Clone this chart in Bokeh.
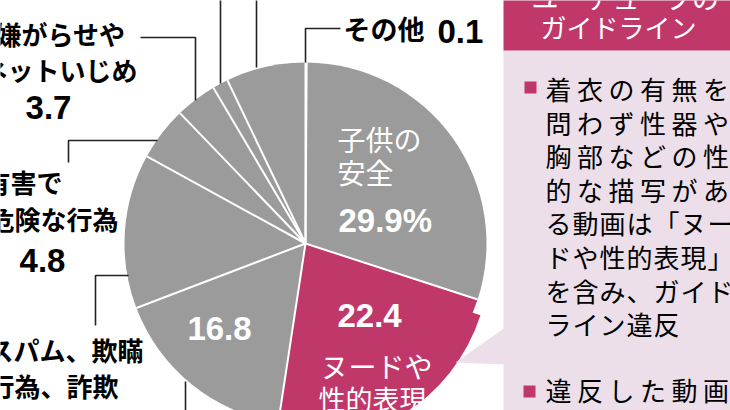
import numpy as np
from bokeh.plotting import figure
from bokeh.models import Range1d, ColumnDataSource
from bokeh.core.properties import value
from bokeh.embed import file_html
from bokeh.resources import INLINE

# ---- data (percent of removed videos, clockwise from 12 o'clock) ----
categories = ["その他", "子供の安全", "ヌードや性的表現", "（図外の項目A）",
              "スパム、欺瞞行為、詐欺", "有害で危険な行為", "嫌がらせやネットいじめ",
              "（図外の項目B）", "（図外の項目C）"]
shares = [0.1, 29.9, 22.4, 16.8, 13.8, 4.8, 3.7, 1.4, 7.1]
highlight = "ヌードや性的表現"

header_lines = ["ユーチューブの", "ガイドライン"]
body_lines = ["着衣の有無を", "問わず性器や", "胸部などの性", "的な描写があ",
              "る動画は「ヌー", "ドや性的表現」", "を含み、ガイド", "ライン違反"]
body_lines2 = ["違反した動画"]

W, H = 730, 410
JP = "Noto Sans CJK JP"
NUM = "Liberation Sans"
GREY = "#9b9b9b"
PINK = "#c0386a"
PALE = "#ecdfe9"

p = figure(width=W, height=H, x_range=Range1d(0, W), y_range=Range1d(0, H),
           x_axis_type=None, y_axis_type=None, toolbar_location=None,
           output_backend="svg", min_border=0, outline_line_color=None,
           background_fill_color="white", border_fill_color="white")
p.xgrid.visible = False
p.ygrid.visible = False


def Y(y):
    return H - y


# ---- pie ----
cx, cy, R = 305, Y(243), 181
frac = np.array(shares) / np.sum(shares)
ends = np.cumsum(frac) * 2 * np.pi
starts = ends - frac * 2 * np.pi
is_hi = np.array([c == highlight for c in categories])
src = ColumnDataSource(dict(
    start=np.pi / 2 - ends, end=np.pi / 2 - starts,
    color=[PINK if h else GREY for h in is_hi], cat=categories))

# highlighted slice pulled slightly outward (drawn underneath the pie)
hi_src = ColumnDataSource(dict(start=(np.pi / 2 - ends)[is_hi], end=(np.pi / 2 - starts)[is_hi]))
p.wedge(x=cx, y=cy - 15, radius=184, start_angle="start", end_angle="end",
        fill_color=PINK, line_color=None, source=hi_src)

p.wedge(x=cx, y=cy, radius=R, start_angle="start", end_angle="end",
        fill_color="color", line_color=None, source=src)
# white separators between slices
p.ray(x=cx, y=cy, length=R, angle=np.pi / 2 - starts, line_color="white", line_width=2)


def txt(x, y, s, size, color="black", align="left", bold=False, font=JP):
    p.text(x=[x], y=[Y(y)], text=[s], text_font=value(font),
           text_font_size=f"{size}px", text_color=color, text_align=align,
           text_baseline="middle", text_font_style="bold" if bold else "normal")


def leader(xs, ys):
    p.line(x=xs, y=[Y(v) for v in ys], line_color="#222222", line_width=1.6)


# ---- right panel ----
p.quad(left=[503], right=[740], top=[Y(50)], bottom=[Y(420)], fill_color=PALE, line_color=None)
p.quad(left=[503], right=[740], top=[Y(-20)], bottom=[Y(50)], fill_color=PINK, line_color=None)
p.patch(x=[455, 506, 506], y=[Y(362), Y(326), Y(364)], fill_color=PALE, line_color=None)

txt(531, -3, header_lines[0], 27, "white")
txt(540, 26, header_lines[1], 26, "white")

# bullets
p.rect(x=[530, 529], y=[Y(87), Y(391)], width=12, height=12, fill_color=PINK, line_color=None)

# justified body text, placed character by character
LINE_W = 189
y0, lh = 88, 33.6
for i, line in enumerate(body_lines):
    pitch = 27 if i == len(body_lines) - 1 else LINE_W / len(line)
    for j, ch in enumerate(line):
        txt(545 + j * pitch, y0 + i * lh, ch, 26)
for j, ch in enumerate(body_lines2[0]):
    txt(545 + j * 31.5, 389, ch, 26)

# ---- labels outside the pie ----
leader([305, 305, 340], [62, 28, 28])
txt(343, 28, categories[0], 27, bold=True)
txt(437, 31, f"{shares[0]}", 33, bold=True, font=NUM)

leader([220, 220], [-5, 83])
leader([256, 256], [-5, 67])

leader([140, 195, 195], [37, 37, 100])
txt(125, 33, "嫌がらせや", 26, align="right", bold=True)
txt(137, 69, "ネットいじめ", 26, align="right", bold=True)
txt(48, 107, f"{shares[6]}", 33, align="center", bold=True, font=NUM)

leader([157, 68, 68], [140, 140, 162])
txt(62, 181, "有害で", 26, align="right", bold=True)
txt(118, 218, "危険な行為", 26, align="right", bold=True)
txt(42, 260, f"{shares[5]}", 33, align="center", bold=True, font=NUM)

leader([128, 95, 95], [275, 275, 325])
txt(143, 349, "スパム、欺瞞", 26, align="right", bold=True)
txt(118, 385, "行為、詐欺", 26, align="right", bold=True)

leader([185, 185], [381, 420])

# ---- labels inside the pie ----
txt(337, 138, "子供の", 28, "white")
txt(337, 171, "安全", 28, "white")
txt(338, 220, f"{shares[1]}%", 33, "white", bold=True, font=NUM)
txt(337, 315, f"{shares[2]}", 33, "white", bold=True, font=NUM)
txt(320, 365, "ヌードや", 28, "white")
txt(318, 398, "性的表現", 27, "white")
txt(219, 328, f"{shares[3]}", 33, "white", align="center", bold=True, font=NUM)

open("out.html", "w").write(file_html(p, INLINE))
